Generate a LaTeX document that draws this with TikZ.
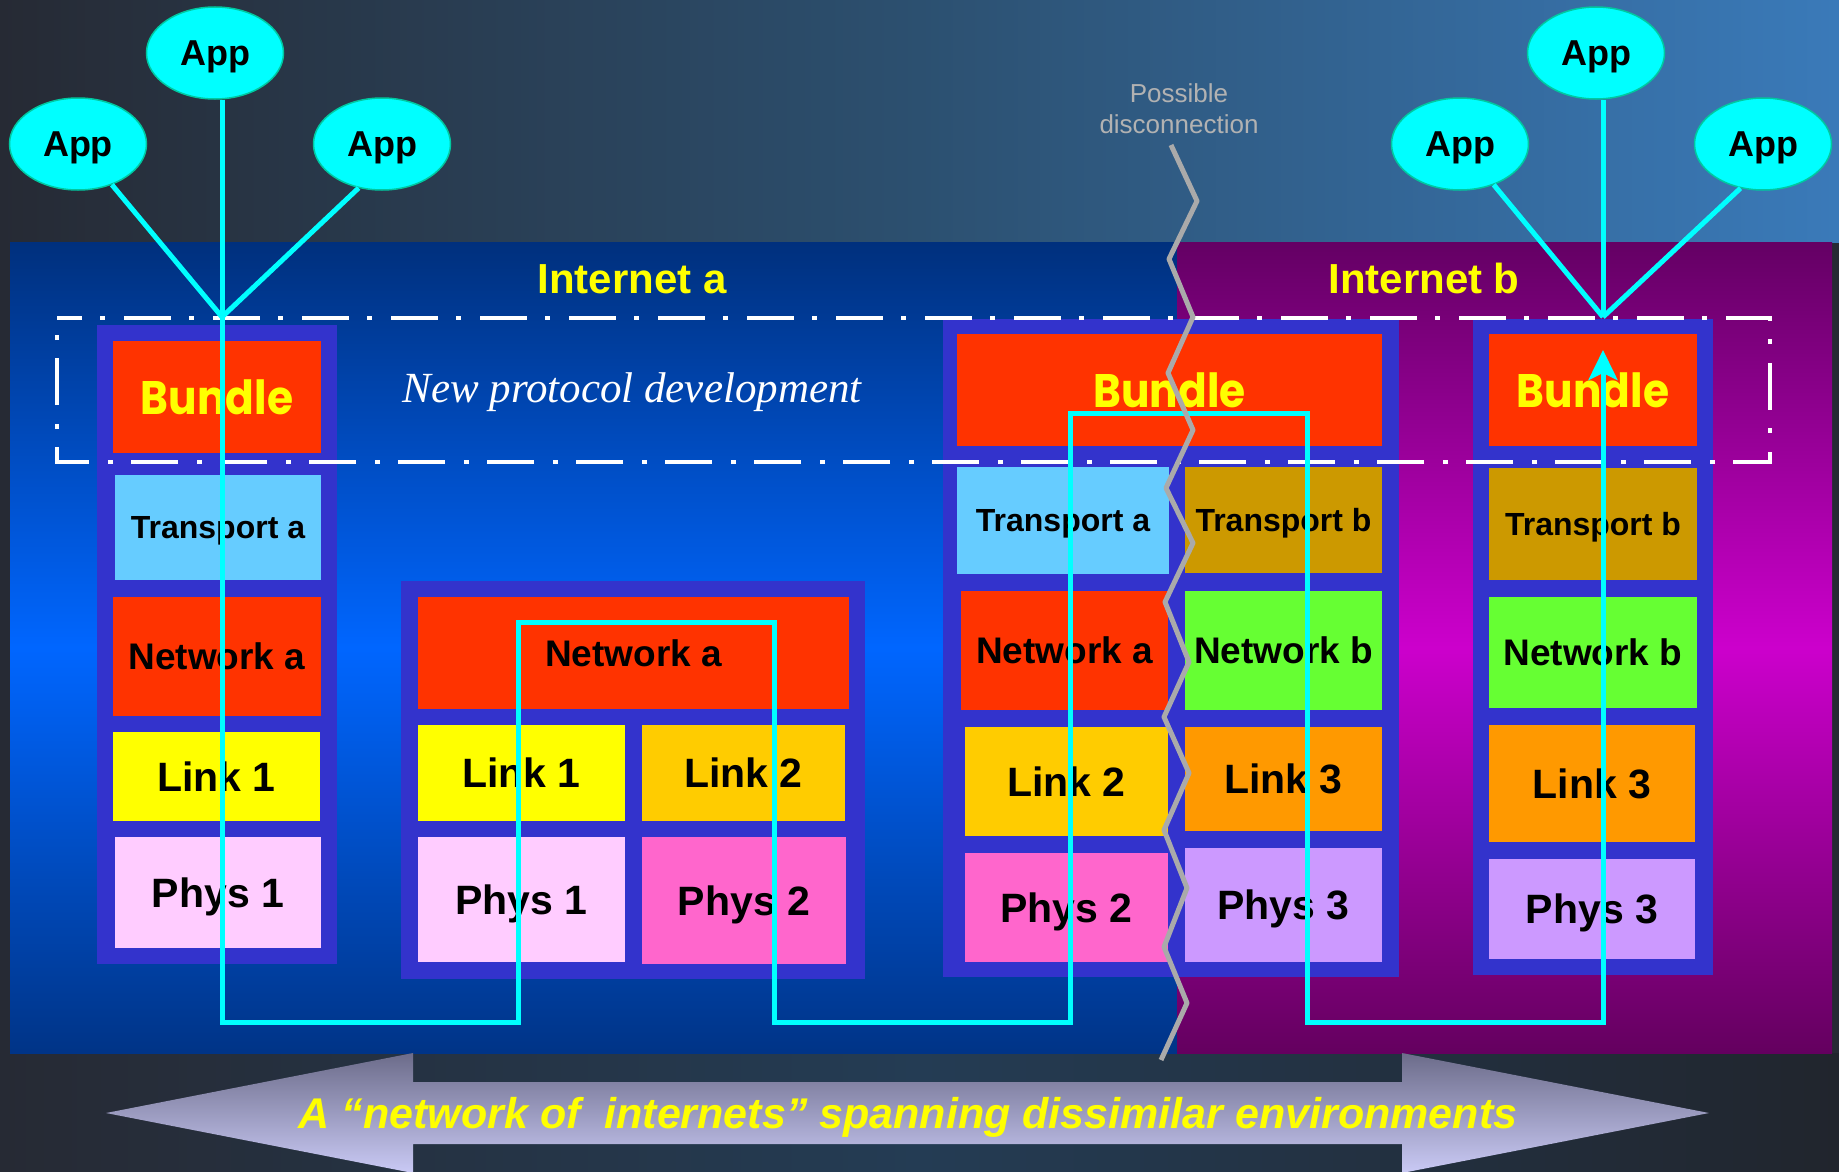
\documentclass[tikz,border=0pt]{standalone}
\usepackage{fontspec}
\setmainfont{Liberation Sans}
\newfontfamily\serifit{Liberation Serif}
\newfontfamily\bundlefont{Poppins}
\usetikzlibrary{shapes.geometric,arrows.meta}

\definecolor{bgdark}{RGB}{38,42,52}
\definecolor{skyMid}{RGB}{44,80,112}
\definecolor{skyRight}{RGB}{58,122,185}
\definecolor{groundMid}{RGB}{36,60,84}
\definecolor{groundRight}{RGB}{33,37,45}
\definecolor{blueTop}{RGB}{0,48,125}
\definecolor{blueMid}{RGB}{0,102,255}
\definecolor{blueBot}{RGB}{0,52,135}
\definecolor{purpTop}{RGB}{100,0,100}
\definecolor{purpMid}{RGB}{204,0,204}
\definecolor{purpBot}{RGB}{100,0,95}
\definecolor{arrowTop}{RGB}{108,108,138}
\definecolor{arrowBot}{RGB}{202,202,245}
\definecolor{cStack}{RGB}{51,51,204}
\definecolor{cRed}{RGB}{255,51,0}
\definecolor{cTrA}{RGB}{102,204,255}
\definecolor{cLinkA}{RGB}{255,255,0}
\definecolor{cPhysA}{RGB}{255,204,255}
\definecolor{cLinkB}{RGB}{255,204,0}
\definecolor{cPhysB}{RGB}{255,102,204}
\definecolor{cTrB}{RGB}{204,153,0}
\definecolor{cNetB}{RGB}{102,255,51}
\definecolor{cLinkC}{RGB}{255,153,0}
\definecolor{cPhysC}{RGB}{204,153,255}
\definecolor{cCyan}{RGB}{0,255,255}
\definecolor{cYel}{RGB}{255,255,0}
\definecolor{cAppEdge}{RGB}{0,200,160}
\definecolor{cZig}{RGB}{170,170,170}
\definecolor{cNote}{RGB}{178,178,178}

\begin{document}
\begin{tikzpicture}[x=1pt,y=-1pt,
  box/.style={rectangle, inner sep=0pt, outer sep=0pt, text depth=0pt, text=black},
  sz/.style 2 args={minimum width=#1pt, minimum height=#2pt},
  stack/.style={box, fill=cStack},
  ftr/.style={font=\bfseries\fontsize{32}{38}\selectfont},
  fnet/.style={font=\bfseries\fontsize{37}{44}\selectfont},
  flink/.style={font=\bfseries\fontsize{41}{49}\selectfont},
  bundlebox/.style={box, fill=cRed, text=cYel, font=\bundlefont\bfseries\fontsize{47}{56}\selectfont},
  app/.style={ellipse, fill=cCyan, draw=cAppEdge, line width=1.5pt, inner sep=0pt,
    minimum width=137pt, minimum height=92pt, text depth=0pt, text=black,
    font=\bfseries\fontsize{36}{42}\selectfont},
  cyanline/.style={draw=cCyan, line width=5pt},
  inetlabel/.style={anchor=base, inner sep=0pt, text=cYel, font=\bfseries\fontsize{42}{50}\selectfont},
  protoframe/.style={draw=white, line width=4pt, dash pattern=on 47pt off 18pt on 5pt off 19pt, dash phase=22pt},
  zigline/.style={draw=cZig, line width=5pt, line join=round}
]
\useasboundingbox (0,0) rectangle (1839,1172);

% backdrop
\node[box, sz={1839}{1172}, fill=bgdark] (backdrop) at (919.5,586) {};
\node[box, sz={1839}{242}, left color=bgdark, right color=skyRight, middle color=skyMid] (sky) at (919.5,121) {};
\node[box, sz={1839}{119}, left color=bgdark, right color=groundRight, middle color=groundMid] (ground) at (919.5,1112.5) {};

% the two internets
\node[box, sz={1167}{811}, top color=blueTop, bottom color=blueBot, middle color=blueMid] (neta) at (593.5,647.5) {};
\node[box, sz={655}{811}, top color=purpTop, bottom color=purpBot, middle color=purpMid] (netb) at (1504.5,647.5) {};
\node[inetlabel] (labA) at (632,293) {Internet a};
\node[inetlabel] (labB) at (1424,293) {Internet b};

% left host stack
\node[stack, sz={240}{639}] (Lfr) at (217,644.5) {};
\node[bundlebox, sz={208}{112}] (Lbun) at (217,397) {\scalebox{0.9}[1]{Bundle}};
\node[box, fill=cTrA, ftr, sz={206}{105}] (Ltr) at (218,527.5) {Transport a};
\node[box, fill=cRed, fnet, sz={208}{119}] (Lnet) at (217,656.5) {Network a};
\node[box, fill=cLinkA, flink, sz={207}{89}] (Llk) at (216.5,776.5) {Link 1};
\node[box, fill=cPhysA, flink, sz={206}{111}] (Lph) at (218,892.5) {Phys 1};

% router between link 1 and link 2
\node[stack, sz={464}{398}] (Mfr) at (633,780) {};
\node[box, fill=cRed, fnet, sz={431}{112}] (Mnet) at (633.5,653) {Network a};
\node[box, fill=cLinkA, flink, sz={207}{96}] (Mlk1) at (521.5,773) {Link 1};
\node[box, fill=cLinkB, flink, sz={203}{96}] (Mlk2) at (743.5,773) {Link 2};
\node[box, fill=cPhysA, flink, sz={207}{125}] (Mph1) at (521.5,899.5) {Phys 1};
\node[box, fill=cPhysB, flink, sz={204}{127}] (Mph2) at (744,900.5) {Phys 2};

% bundle gateway between the two internets
\node[stack, sz={456}{658}] (Gfr) at (1171,648) {};
\node[bundlebox, sz={425}{112}] (Gbun) at (1169.5,390) {\scalebox{0.9}[1]{Bundle}};
\node[box, fill=cTrA, ftr, sz={212}{107}] (Gtra) at (1063,520.5) {Transport a};
\node[box, fill=cTrB, ftr, sz={197}{106}] (Gtrb) at (1283.5,520) {Transport b};
\node[box, fill=cRed, fnet, sz={207}{119}] (Gneta) at (1064.5,650.5) {Network a};
\node[box, fill=cNetB, fnet, sz={197}{119}] (Gnetb) at (1283.5,650.5) {Network b};
\node[box, fill=cLinkB, flink, sz={203}{109}] (Glk2) at (1066.5,781.5) {Link 2};
\node[box, fill=cLinkC, flink, sz={197}{104}] (Glk3) at (1283.5,779) {Link 3};
\node[box, fill=cPhysB, flink, sz={203}{109}] (Gph2) at (1066.5,907.5) {Phys 2};
\node[box, fill=cPhysC, flink, sz={197}{114}] (Gph3) at (1283.5,905) {Phys 3};

% right host stack
\node[stack, sz={240}{656}] (Rfr) at (1593,647) {};
\node[bundlebox, sz={208}{112}] (Rbun) at (1593,390) {\scalebox{0.9}[1]{Bundle}};
\node[box, fill=cTrB, ftr, sz={208}{112}] (Rtr) at (1593,524) {Transport b};
\node[box, fill=cNetB, fnet, sz={208}{111}] (Rnet) at (1593,652.5) {Network b};
\node[box, fill=cLinkC, flink, sz={206}{117}] (Rlk) at (1592,783.5) {Link 3};
\node[box, fill=cPhysC, flink, sz={206}{100}] (Rph) at (1592,909) {Phys 3};

% bundle layer band
\draw[protoframe] (57,318) -- (1770,318) -- (1770,462) -- (57,462) -- cycle;
\node[anchor=base, inner sep=0pt, text=white, font=\serifit\itshape\fontsize{43}{50}\selectfont] (proto) at (632,402) {New protocol development};

% applications
\node[app] (appA1) at (78,144) {App};
\node[app] (appB1) at (215,53) {App};
\node[app] (appC1) at (382,144) {App};
\node[app] (appA2) at (1460,144) {App};
\node[app] (appB2) at (1596,53) {App};
\node[app] (appC2) at (1763,144) {App};

% data path
\coordinate (cv1) at (222,317);
\coordinate (b1) at (222,1022);
\coordinate (b2) at (518,1022);
\coordinate (t2) at (518,622);
\coordinate (t3) at (774,622);
\coordinate (b3) at (774,1022);
\coordinate (b4) at (1070,1022);
\coordinate (t4) at (1070,413);
\coordinate (t5) at (1307,413);
\coordinate (b5) at (1307,1022);
\coordinate (b6) at (1603,1022);
\coordinate (tip) at (1603,350);
\coordinate (cv2) at (1603,317);

\draw[cyanline] (appA1) -- (cv1);
\draw[cyanline] (appC1.242) -- (cv1);
\draw[cyanline, line join=miter, -{Stealth[length=30pt,width=29pt,inset=7pt]}]
  (appB1.south -| cv1) -- (b1) -- (b2) -- (t2) -- (t3) -- (b3) -- (b4)
  -- (t4) -- (t5) -- (b5) -- (b6) -- (tip);
\draw[cyanline] (appA2) -- (cv2);
\draw[cyanline] (appC2.243) -- (cv2);
\draw[cyanline] (appB2.south -| cv2) -- (cv2);

% possible disconnection
\node[anchor=north, inner sep=0pt, align=center, text=cNote, font=\fontsize{26}{31}\selectfont] (disc) at (1179,83.4) {Possible\\disconnection};
\draw[zigline] (1171,145) -- (1197,201) -- (1169,259) -- (1193,317) -- (1168,373)
  -- (1193,430) -- (1166,488) -- (1193,543) -- (1165,602) -- (1189,662)
  -- (1164,717) -- (1189,773) -- (1164,830) -- (1187,888) -- (1164,947)
  -- (1187,1003) -- (1161,1060);

% spanning arrow
\path[top color=arrowTop, bottom color=arrowBot] (106,1113) -- (413,1053) -- (413,1082) -- (1402,1082)
  -- (1402,1053) -- (1709,1113) -- (1402,1173) -- (1402,1144) -- (413,1144) -- (413,1173) -- cycle;
\node[anchor=base, inner sep=0pt, text=cYel, font=\bfseries\itshape\fontsize{43}{50}\selectfont] (span) at (908,1128)
  {A “network of~~internets” spanning dissimilar environments};
\end{tikzpicture}
\end{document}
